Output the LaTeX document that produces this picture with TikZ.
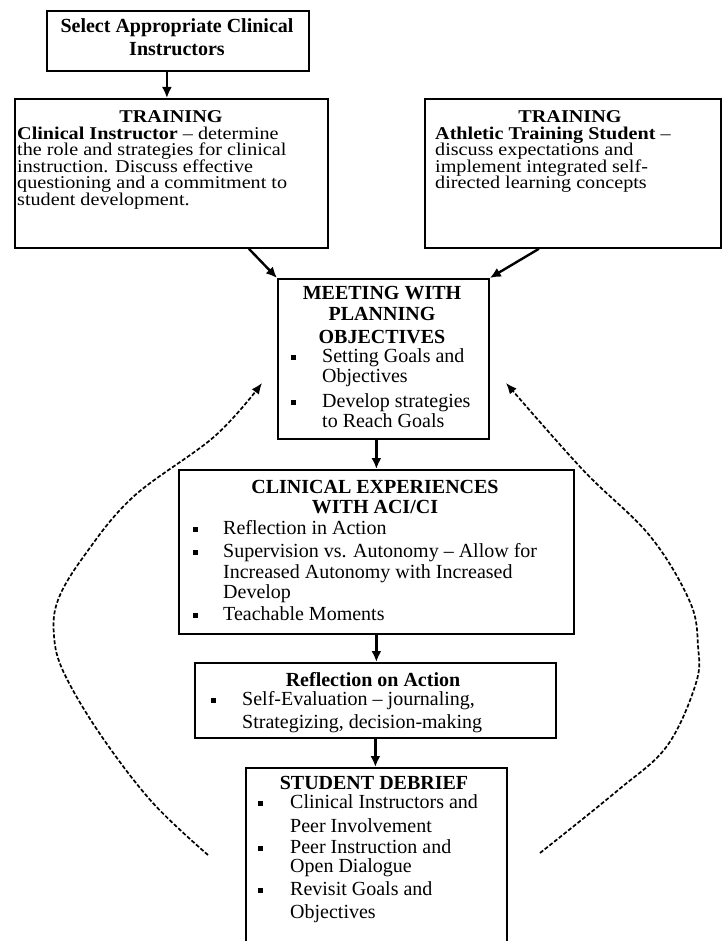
\documentclass[tikz,border=0pt]{standalone}
\usepackage{fontspec}
\setmainfont{Liberation Serif}
\newfontfamily\trfont[FakeStretch=1.12]{Liberation Serif}
\usetikzlibrary{arrows.meta}
\tikzset{
  box/.style={draw=black, line width=1.8pt, inner sep=0pt, anchor=north west, fill=white},
  txt/.style={inner sep=0pt, font=\fontsize{20}{23}\selectfont},
  trtxt/.style={inner sep=0pt, font=\trfont\fontsize{18}{16.6}\selectfont},
  bul/.style={fill=black, inner sep=0pt, minimum size=5pt},
  arr/.style={line width=2.4pt, -{Latex[length=11pt,width=10pt]}},
  dasharr/.style={line width=1.7pt, dash pattern=on 4pt off 2pt, -{Latex[length=11pt,width=9pt]}}
}
\newcommand{\mytl}[4]{\node[txt,anchor=base west] (#1) at (#2,#3) {#4};}
\newcommand{\mytc}[4]{\node[txt,anchor=base] (#1) at (#2,#3) {#4};}
\newcommand{\mytrl}[4]{\node[trtxt,anchor=base west] (#1) at (#2,#3) {#4};}
\newcommand{\mytrc}[4]{\node[trtxt,anchor=base] (#1) at (#2,#3) {#4};}
\newcommand{\mybul}[3]{\node[bul] (#1) at (#2,#3) {};}
\begin{document}
\begin{tikzpicture}[x=1pt,y=-1pt]
\clip (0,0) rectangle (722,941);
\fill[white] (0,0) rectangle (722,941);

% boxes
\node[box, minimum width=262pt, minimum height=60pt] (sel) at (46,10) {};
\node[box, minimum width=313pt, minimum height=149pt] (trl) at (14,98) {};
\node[box, minimum width=296pt, minimum height=149pt] (trr) at (424,98) {};
\node[box, minimum width=211pt, minimum height=160pt] (meet) at (277,278) {};
\node[box, minimum width=395pt, minimum height=164pt] (clin) at (178,469) {};
\node[box, minimum width=361pt, minimum height=75pt] (refl) at (194,662) {};
\node[box, minimum width=261pt, minimum height=200pt] (stu) at (245,767) {};

% box 1
\mytc{selA}{177}{33}{\bfseries Select Appropriate Clinical}
\mytc{selB}{177}{56}{\bfseries Instructors}

% training left
\mytrc{trlh}{171}{123}{\bfseries TRAINING}
\mytrl{trl1}{17}{139.5}{\textbf{Clinical Instructor} – determine}
\mytrl{trl2}{17}{156}{the role and strategies for clinical}
\mytrl{trl3}{17}{172.5}{instruction. Discuss effective}
\mytrl{trl4}{17}{189}{questioning and a commitment to}
\mytrl{trl5}{17}{205.5}{student development.}

% training right
\mytrc{trrh}{570}{123}{\bfseries TRAINING}
\mytrl{trr1}{435}{139.5}{\textbf{Athletic Training Student} –}
\mytrl{trr2}{435}{156}{discuss expectations and}
\mytrl{trr3}{435}{172.5}{implement integrated self-}
\mytrl{trr4}{435}{189}{directed learning concepts}

% meeting
\mytc{meetA}{382}{299}{\bfseries MEETING WITH}
\mytc{meetB}{382}{320}{\bfseries PLANNING}
\mytc{meetC}{382}{343.5}{\bfseries OBJECTIVES}
\mybul{mb1}{293}{357}
\mytl{meet1}{322}{362}{Setting Goals and}
\mytl{meet2}{322}{382}{Objectives}
\mybul{mb2}{293}{402}
\mytl{meet3}{322}{407}{Develop strategies}
\mytl{meet4}{322}{427}{to Reach Goals}

% clinical
\mytc{clinA}{375}{493.5}{\bfseries CLINICAL EXPERIENCES}
\mytc{clinB}{375}{513.5}{\bfseries WITH ACI/CI}
\mybul{cb1}{195}{529}
\mytl{clin1}{223}{534}{Reflection in Action}
\mybul{cb2}{195}{552}
\mytl{clin2}{223}{557}{Supervision vs. Autonomy – Allow for}
\mytl{clin3}{223}{578}{Increased Autonomy with Increased}
\mytl{clin4}{223}{598}{Develop}
\mybul{cb3}{195}{615}
\mytl{clin5}{223}{620}{Teachable Moments}

% reflection
\mytc{reflA}{373}{686}{\bfseries Reflection on Action}
\mybul{rb1}{213}{700}
\mytl{refl1}{242}{705}{Self-Evaluation – journaling,}
\mytl{refl2}{242}{728}{Strategizing, decision-making}

% student debrief
\mytc{stuA}{374}{789.5}{\bfseries STUDENT DEBRIEF}
\mybul{sb1}{260}{803}
\mytl{stu1}{290}{808}{Clinical Instructors and}
\mytl{stu2}{290}{832}{Peer Involvement}
\mybul{sb2}{260}{848}
\mytl{stu3}{290}{853}{Peer Instruction and}
\mytl{stu4}{290}{872}{Open Dialogue}
\mybul{sb3}{260}{890}
\mytl{stu5}{290}{895}{Revisit Goals and}
\mytl{stu6}{290}{918}{Objectives}

% solid arrows
\draw[arr] ([xshift=-11pt]sel.south) -- ([xshift=-11pt]sel.south |- trl.north);
\draw[arr] ([xshift=77.5pt]trl.south) -- (meet.north west);
\draw[arr] ([xshift=-34pt]trr.south) -- (meet.north east);
\draw[arr] (meet.south -| clin.north) -- (clin.north);
\draw[arr] (clin.south) -- (clin.south |- refl.north);
\draw[arr] (refl.south) -- (refl.south |- stu.north);

% dashed feedback curves
\coordinate (la) at (208,855);
\coordinate (lb) at (152,802);
\coordinate (lc) at (100,734);
\coordinate (ld) at (64,673);
\coordinate (le) at (54,636);
\coordinate (lf) at (58,600);
\coordinate (lg) at (84,556);
\coordinate (lh) at (133,497);
\coordinate (li) at (215,436);
\coordinate (lj) at (262,383);
\draw[dasharr] plot[smooth, tension=0.6] coordinates {(la) (lb) (lc) (ld) (le) (lf) (lg) (lh) (li) (lj)};

\coordinate (ra) at (540,853);
\coordinate (rb) at (617,791);
\coordinate (rc) at (667,746);
\coordinate (rd) at (696,683);
\coordinate (re) at (698,646);
\coordinate (rf) at (690,602);
\coordinate (rg) at (650,536);
\coordinate (rh) at (583,470);
\coordinate (ri) at (506,383);
\draw[dasharr] plot[smooth, tension=0.6] coordinates {(ra) (rb) (rc) (rd) (re) (rf) (rg) (rh) (ri)};
\end{tikzpicture}
\end{document}
